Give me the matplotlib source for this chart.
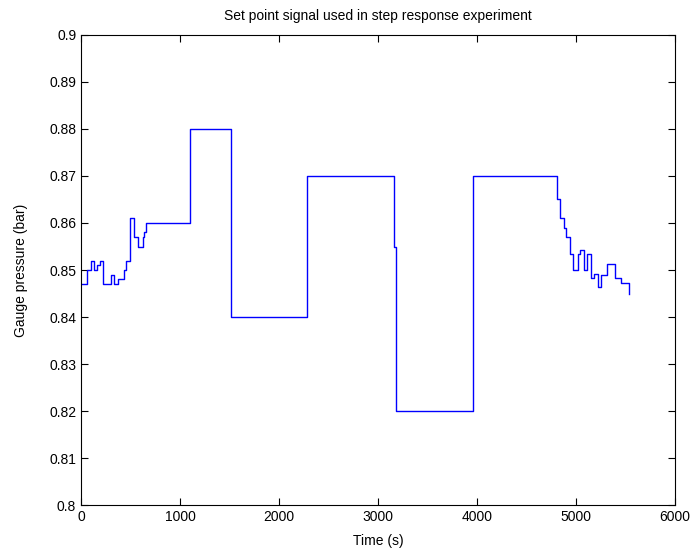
import matplotlib
matplotlib.use("Agg")
import matplotlib.pyplot as plt

# Step change instants (s) and set point after each change (bar)
step_time = [0, 57, 98, 131, 162, 191, 225, 299, 333, 370, 430, 450, 494, 538,
             571, 622, 640, 655, 1100, 1510, 2280, 3165, 3185, 3960,
             4805, 4838, 4879, 4902, 4943, 4973, 5020, 5040, 5080, 5114, 5154,
             5181, 5221, 5248, 5315, 5393, 5456, 5540]
set_point = [0.847, 0.850, 0.852, 0.850, 0.851, 0.852, 0.847, 0.849, 0.847, 0.848,
             0.850, 0.852, 0.861, 0.857, 0.855, 0.857, 0.858, 0.860, 0.880, 0.840,
             0.870, 0.855, 0.820, 0.870,
             0.865, 0.861, 0.859, 0.857, 0.8533, 0.850, 0.8533, 0.8543, 0.850,
             0.8533, 0.8484, 0.8492, 0.8464, 0.849, 0.8513, 0.8484, 0.8472, 0.845]

plt.rcParams["font.family"] = ["Liberation Sans", "DejaVu Sans"]
plt.rcParams["font.size"] = 10

fig = plt.figure(figsize=(6.93, 5.55), dpi=100)
ax = fig.add_axes([0.117, 0.090, 0.857, 0.847])

ax.plot(step_time, set_point, color="#0000FF", linewidth=1.0, drawstyle="steps-post")

ax.set_xlim(0, 6000)
ax.set_ylim(0.8, 0.9)
ax.set_xticks(range(0, 6001, 1000))
ax.set_yticks([0.8 + 0.01 * i for i in range(11)])
ax.set_yticklabels(["0.8", "0.81", "0.82", "0.83", "0.84", "0.85",
                    "0.86", "0.87", "0.88", "0.89", "0.9"])
ax.tick_params(direction="in", top=True, right=True, length=5)

ax.set_xlabel("Time (s)", labelpad=7.5)
ax.set_ylabel("Gauge pressure (bar)", labelpad=15)
ax.set_title("Set point signal used in step response experiment", fontsize=10, pad=11)

fig.savefig("out.png", dpi=100)
plt.close(fig)
